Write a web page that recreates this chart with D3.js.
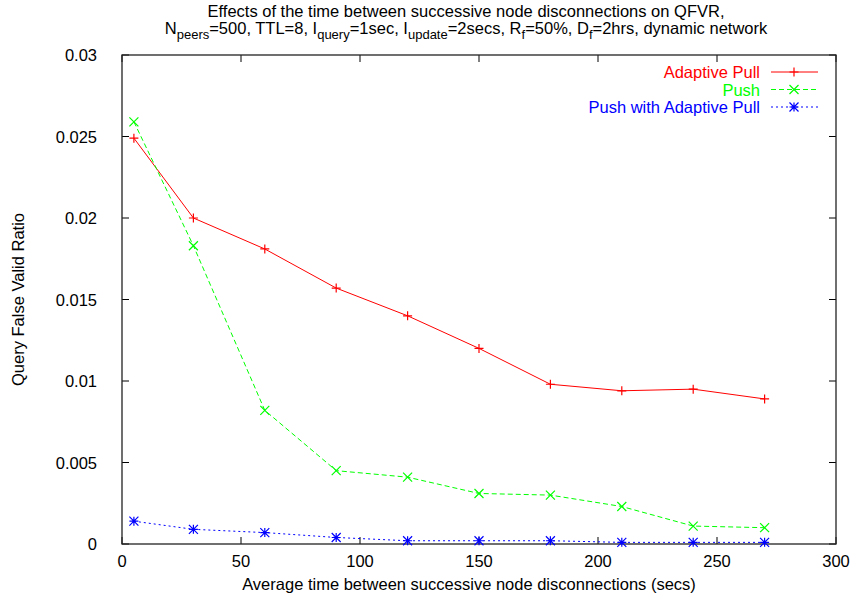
<!DOCTYPE html>
<html><head><meta charset="utf-8">
<script src="https://cdn.jsdelivr.net/npm/d3@7"></script>
<style>
body{margin:0;background:#fff;}
text{font-family:"Liberation Sans",Arial,Helvetica,sans-serif;}
</style></head>
<body>
<svg id="chart" width="855" height="599"></svg>
<script>
const xValues = [5, 30, 60, 90, 120, 150, 180, 210, 240, 270];
const adaptivePull = [0.0249, 0.0200, 0.0181, 0.0157, 0.0140, 0.0120, 0.0098, 0.0094, 0.0095, 0.0089];
const push = [0.0259, 0.0183, 0.0082, 0.0045, 0.0041, 0.0031, 0.0030, 0.0023, 0.0011, 0.0010];
const pushAdaptive = [0.0014, 0.0009, 0.0007, 0.0004, 0.0002, 0.0002, 0.0002, 0.0001, 0.0001, 0.0001];
const seriesNames = ["Adaptive Pull", "Push", "Push with Adaptive Pull"];
const xTicks = [0, 50, 100, 150, 200, 250, 300];
const yTicks = [0, 0.005, 0.01, 0.015, 0.02, 0.025, 0.03];

const svg = d3.select("#chart");
const FS = 16.5;
const m = {left: 122, right: 836, top: 55, bottom: 544};
const x = d3.scaleLinear().domain([0, 300]).range([m.left, m.right]);
const y = d3.scaleLinear().domain([0, 0.03]).range([m.bottom, m.top]);

const styles = [
  {color: "#ff0000", dash: null, marker: "plus"},
  {color: "#00ff00", dash: "5,3", marker: "cross"},
  {color: "#0000ff", dash: "2,3", marker: "star"}
];
const data = [adaptivePull, push, pushAdaptive];

// ticks (inward, mirrored)
const tl = 7;
const axisG = svg.append("g");
xTicks.forEach(t => {
  axisG.append("line").attr("x1", x(t)).attr("x2", x(t)).attr("y1", m.bottom).attr("y2", m.bottom - tl).attr("stroke", "#000");
  axisG.append("line").attr("x1", x(t)).attr("x2", x(t)).attr("y1", m.top).attr("y2", m.top + tl).attr("stroke", "#000");
  axisG.append("text").attr("x", x(t)).attr("y", m.bottom + 23).attr("text-anchor", "middle").attr("font-size", FS).text(t);
});
yTicks.forEach(t => {
  axisG.append("line").attr("x1", m.left).attr("x2", m.left + tl).attr("y1", y(t)).attr("y2", y(t)).attr("stroke", "#000");
  axisG.append("line").attr("x1", m.right).attr("x2", m.right - tl).attr("y1", y(t)).attr("y2", y(t)).attr("stroke", "#000");
  axisG.append("text").attr("x", m.left - 25).attr("y", y(t) + 6).attr("text-anchor", "end").attr("font-size", FS).text(d3.format("")(t));
});
axisG.append("rect").attr("x", m.left).attr("y", m.top).attr("width", m.right - m.left).attr("height", m.bottom - m.top)
  .attr("fill", "none").attr("stroke", "#222").attr("stroke-width", 1.3);

function marker(g, type, cx, cy, color) {
  const s = 4.5;
  const p = d3.path();
  if (type === "plus" || type === "star") {
    p.moveTo(cx - s, cy); p.lineTo(cx + s, cy);
    p.moveTo(cx, cy - s); p.lineTo(cx, cy + s);
  }
  if (type === "cross" || type === "star") {
    p.moveTo(cx - s, cy - s); p.lineTo(cx + s, cy + s);
    p.moveTo(cx - s, cy + s); p.lineTo(cx + s, cy - s);
  }
  g.append("path").attr("d", p.toString()).attr("stroke", color).attr("stroke-width", 1.2).attr("fill", "none");
}

const line = d3.line().x(d => x(d[0])).y(d => y(d[1]));
data.forEach((vals, i) => {
  const st = styles[i];
  const pts = xValues.map((xv, j) => [xv, vals[j]]);
  const g = svg.append("g");
  g.append("path").datum(pts).attr("d", line).attr("fill", "none").attr("stroke", st.color)
    .attr("stroke-width", 1).attr("stroke-dasharray", st.dash);
  pts.forEach(p => marker(g, st.marker, x(p[0]), y(p[1]), st.color));
});

// legend
const lg = svg.append("g");
seriesNames.forEach((name, i) => {
  const st = styles[i];
  const ly = 72 + i * 17.5;
  lg.append("text").attr("x", 760).attr("y", ly + 6).attr("text-anchor", "end").attr("font-size", FS)
    .attr("fill", st.color).text(name);
  lg.append("line").attr("x1", 771).attr("x2", 818).attr("y1", ly).attr("y2", ly)
    .attr("stroke", st.color).attr("stroke-width", 1).attr("stroke-dasharray", st.dash);
  marker(lg, st.marker, 794, ly, st.color);
});

// title
svg.append("text").attr("text-anchor", "middle").attr("font-size", FS).attr("x", 466).attr("y", 17)
  .text("Effects of the time between successive node disconnections on QFVR,");
const t2 = svg.append("text").attr("text-anchor", "middle").attr("font-size", FS).attr("x", 466).attr("y", 34);
const parts = [["N", 0], ["peers", 1], ["=500, TTL=8, I", 0], ["query", 1], ["=1sec, I", 0], ["update", 1], ["=2secs, R", 0], ["f", 1], ["=50%, D", 0], ["f", 1], ["=2hrs, dynamic network", 0]];
let prevSub = 0;
parts.forEach(([txt, sub]) => {
  const ts = t2.append("tspan").text(txt);
  if (sub) { ts.attr("font-size", 13).attr("dy", prevSub ? 0 : 5); }
  else if (prevSub) { ts.attr("dy", -5); }
  prevSub = sub;
});

// axis titles
svg.append("text").attr("x", 469).attr("y", 590).attr("text-anchor", "middle").attr("font-size", FS)
  .text("Average time between successive node disconnections (secs)");
svg.append("text").attr("transform", `translate(24,${(m.top + m.bottom) / 2}) rotate(-90)`).attr("text-anchor", "middle")
  .attr("font-size", FS).text("Query False Valid Ratio");
</script>
</body></html>
